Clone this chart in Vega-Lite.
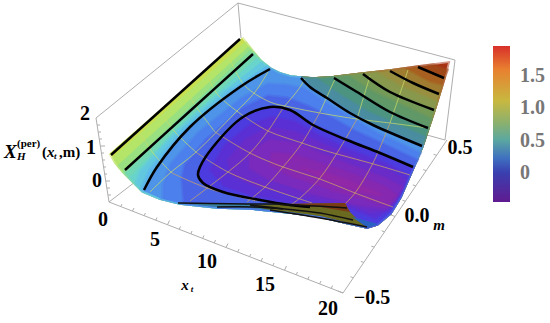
{"$schema":"https://vega.github.io/schema/vega-lite/v6.json","width":550,"height":323,"padding":0,"autosize":"none","background":"white","config":{"view":{"stroke":null}},
"encoding":{"x":{"field":"x","type":"quantitative","scale":{"domain":[0,550],"nice":false,"zero":false},"axis":null},"y":{"field":"y","type":"quantitative","scale":{"domain":[323,0],"nice":false,"zero":false},"axis":null}},
"layer":[
{"data":{"values":[
{"x":238,"y":3,"x2":96,"y2":118},{"x":238,"y":3,"x2":455,"y2":60},{"x":238,"y":3,"x2":241,"y2":38},{"x":455,"y":60,"x2":445,"y2":140},{"x":96,"y":118,"x2":109,"y2":202},{"x":109,"y":202,"x2":343,"y2":293},{"x":343,"y":293,"x2":447,"y2":140},{"x":109,"y":202,"x2":135,"y2":182},{"x":427,"y":135,"x2":445,"y2":140},{"x":343,"y":293,"x2":338,"y2":291},
{"x":120.7,"y":206.6,"x2":122,"y2":204},{"x":132.4,"y":211.1,"x2":134,"y2":208},{"x":144.1,"y":215.7,"x2":145.5,"y2":213},{"x":155.8,"y":220.2,"x2":157,"y2":217.5},{"x":167.5,"y":224.8,"x2":169.5,"y2":220.5},{"x":179.2,"y":229.3,"x2":180.5,"y2":226.5},{"x":190.9,"y":233.9,"x2":192,"y2":231},{"x":202.6,"y":238.4,"x2":204,"y2":235.5},{"x":214.3,"y":243,"x2":215.5,"y2":240},{"x":226,"y":247.5,"x2":228,"y2":243.5},{"x":237.7,"y":252.1,"x2":239,"y2":249},{"x":249.4,"y":256.6,"x2":251,"y2":254},{"x":261.1,"y":261.2,"x2":262.5,"y2":258},{"x":272.8,"y":265.7,"x2":274,"y2":263},{"x":284.5,"y":270.3,"x2":286.5,"y2":266},{"x":296.2,"y":274.8,"x2":297.5,"y2":272},{"x":307.9,"y":279.4,"x2":309,"y2":276.5},{"x":319.6,"y":283.9,"x2":321,"y2":281},{"x":331.3,"y":288.5,"x2":332.5,"y2":285.5},
{"x":97,"y":125,"x2":100,"y2":125},{"x":98.2,"y":132,"x2":101,"y2":132},{"x":99.3,"y":139,"x2":102,"y2":139},{"x":100.3,"y":146,"x2":105,"y2":146},{"x":101.4,"y":153,"x2":104,"y2":153},{"x":102.5,"y":160,"x2":105,"y2":160},{"x":103.6,"y":167,"x2":106,"y2":167},{"x":104.7,"y":174,"x2":107,"y2":174},{"x":105.8,"y":181,"x2":110,"y2":181},{"x":106.9,"y":188,"x2":110,"y2":188},{"x":108,"y":195,"x2":111,"y2":195},
{"x":353.4,"y":277.7,"x2":350.4,"y2":276.7},{"x":363.8,"y":262.4,"x2":360.8,"y2":261.4},{"x":374.2,"y":247.1,"x2":371.2,"y2":246.1},{"x":384.6,"y":231.8,"x2":381.6,"y2":230.8},{"x":395,"y":216.5,"x2":390,"y2":214.5},{"x":405.4,"y":201.2,"x2":402.4,"y2":200.2},{"x":415.8,"y":185.9,"x2":412.8,"y2":184.9},{"x":426.2,"y":170.6,"x2":423.2,"y2":169.6},{"x":436.6,"y":155.3,"x2":433.6,"y2":154.3}
]},"mark":{"type":"rule","stroke":"#aeaeae","strokeWidth":1},"encoding":{"x2":{"field":"x2"},"y2":{"field":"y2"}}},
{"data":{"values":[
{"b":"s0","x":242,"y":38},{"b":"s0","x":261,"y":62},{"b":"s0","x":270,"y":69},{"b":"s0","x":280,"y":74},{"b":"s0","x":290,"y":77},{"b":"s0","x":301,"y":78},{"b":"s0","x":290,"y":212},{"b":"s0","x":250,"y":208},{"b":"s0","x":217,"y":207},{"b":"s0","x":180,"y":203},{"b":"s0","x":160,"y":198},{"b":"s0","x":143,"y":191},{"b":"s0","x":133,"y":181},{"b":"s0","x":123,"y":171},{"b":"s0","x":116,"y":163},{"b":"s0","x":110,"y":153},
{"b":"l1","x":245,"y":42},{"b":"l1","x":253,"y":53},{"b":"l1","x":261,"y":62},{"b":"l1","x":270,"y":69},{"b":"l1","x":280,"y":74},{"b":"l1","x":290,"y":77},{"b":"l1","x":301,"y":78},{"b":"l1","x":290,"y":212},{"b":"l1","x":250,"y":208},{"b":"l1","x":217,"y":207},{"b":"l1","x":180,"y":203},{"b":"l1","x":160,"y":198},{"b":"l1","x":143,"y":191},{"b":"l1","x":133,"y":181},{"b":"l1","x":123,"y":171},{"b":"l1","x":116,"y":163},{"b":"l1","x":113,"y":157},
{"b":"l2","x":248,"y":47},{"b":"l2","x":253,"y":53},{"b":"l2","x":261,"y":62},{"b":"l2","x":270,"y":69},{"b":"l2","x":280,"y":74},{"b":"l2","x":290,"y":77},{"b":"l2","x":301,"y":78},{"b":"l2","x":290,"y":212},{"b":"l2","x":250,"y":208},{"b":"l2","x":217,"y":207},{"b":"l2","x":180,"y":203},{"b":"l2","x":160,"y":198},{"b":"l2","x":143,"y":191},{"b":"l2","x":133,"y":181},{"b":"l2","x":123,"y":171},{"b":"l2","x":118,"y":165},
{"b":"l3","x":250,"y":50},{"b":"l3","x":253,"y":53},{"b":"l3","x":261,"y":62},{"b":"l3","x":270,"y":69},{"b":"l3","x":280,"y":74},{"b":"l3","x":290,"y":77},{"b":"l3","x":301,"y":78},{"b":"l3","x":290,"y":212},{"b":"l3","x":250,"y":208},{"b":"l3","x":217,"y":207},{"b":"l3","x":180,"y":203},{"b":"l3","x":160,"y":198},{"b":"l3","x":143,"y":191},{"b":"l3","x":133,"y":181},{"b":"l3","x":123,"y":171},
{"b":"l4","x":253,"y":53},{"b":"l4","x":261,"y":62},{"b":"l4","x":270,"y":69},{"b":"l4","x":280,"y":74},{"b":"l4","x":290,"y":77},{"b":"l4","x":301,"y":78},{"b":"l4","x":290,"y":212},{"b":"l4","x":250,"y":208},{"b":"l4","x":217,"y":207},{"b":"l4","x":180,"y":203},{"b":"l4","x":160,"y":198},{"b":"l4","x":143,"y":191},{"b":"l4","x":133,"y":181},{"b":"l4","x":125,"y":173},
{"b":"l5","x":257,"y":58},{"b":"l5","x":261,"y":62},{"b":"l5","x":270,"y":69},{"b":"l5","x":280,"y":74},{"b":"l5","x":290,"y":77},{"b":"l5","x":301,"y":78},{"b":"l5","x":290,"y":212},{"b":"l5","x":250,"y":208},{"b":"l5","x":217,"y":207},{"b":"l5","x":180,"y":203},{"b":"l5","x":160,"y":198},{"b":"l5","x":143,"y":191},{"b":"l5","x":133,"y":181},{"b":"l5","x":130,"y":178},{"b":"l5","x":194,"y":113},
{"b":"l6","x":261,"y":62},{"b":"l6","x":270,"y":69},{"b":"l6","x":280,"y":74},{"b":"l6","x":290,"y":77},{"b":"l6","x":301,"y":78},{"b":"l6","x":290,"y":212},{"b":"l6","x":250,"y":208},{"b":"l6","x":217,"y":207},{"b":"l6","x":180,"y":203},{"b":"l6","x":160,"y":198},{"b":"l6","x":143,"y":191},{"b":"l6","x":136,"y":184},{"b":"l6","x":140,"y":172},{"b":"l6","x":175,"y":133},{"b":"l6","x":225,"y":90},
{"b":"l7","x":266,"y":66},{"b":"l7","x":270,"y":69},{"b":"l7","x":280,"y":74},{"b":"l7","x":290,"y":77},{"b":"l7","x":301,"y":78},{"b":"l7","x":290,"y":212},{"b":"l7","x":250,"y":208},{"b":"l7","x":217,"y":207},{"b":"l7","x":180,"y":203},{"b":"l7","x":160,"y":198},{"b":"l7","x":143,"y":191},{"b":"l7","x":141,"y":189},{"b":"l7","x":150,"y":169},{"b":"l7","x":183,"y":130},{"b":"l7","x":233,"y":88},
{"b":"r0","x":301,"y":78},{"b":"r0","x":313,"y":79},{"b":"r0","x":334,"y":77.5},{"b":"r0","x":363,"y":74},{"b":"r0","x":390,"y":71},{"b":"r0","x":418,"y":67},{"b":"r0","x":448,"y":63},{"b":"r0","x":444,"y":78},{"b":"r0","x":439,"y":94},{"b":"r0","x":434,"y":110},{"b":"r0","x":428,"y":128},{"b":"r0","x":422,"y":146},{"b":"r0","x":413,"y":167},{"b":"r0","x":400,"y":197},{"b":"r0","x":390,"y":213},{"b":"r0","x":377,"y":224},{"b":"r0","x":367,"y":227},{"b":"r0","x":345,"y":222},{"b":"r0","x":320,"y":216},{"b":"r0","x":290,"y":212},
{"b":"r1","x":301,"y":78},{"b":"r1","x":313,"y":79},{"b":"r1","x":334,"y":77.5},{"b":"r1","x":363,"y":74},{"b":"r1","x":390,"y":71},{"b":"r1","x":418,"y":67},{"b":"r1","x":433,"y":65},{"b":"r1","x":447,"y":70},{"b":"r1","x":444,"y":78},{"b":"r1","x":439,"y":94},{"b":"r1","x":434,"y":110},{"b":"r1","x":428,"y":128},{"b":"r1","x":422,"y":146},{"b":"r1","x":413,"y":167},{"b":"r1","x":400,"y":197},{"b":"r1","x":390,"y":213},{"b":"r1","x":377,"y":224},{"b":"r1","x":367,"y":227},{"b":"r1","x":345,"y":222},{"b":"r1","x":320,"y":216},{"b":"r1","x":290,"y":212},
{"b":"r2","x":301,"y":78},{"b":"r2","x":313,"y":79},{"b":"r2","x":334,"y":77.5},{"b":"r2","x":363,"y":74},{"b":"r2","x":390,"y":71},{"b":"r2","x":418,"y":67},{"b":"r2","x":444,"y":78},{"b":"r2","x":439,"y":94},{"b":"r2","x":434,"y":110},{"b":"r2","x":428,"y":128},{"b":"r2","x":422,"y":146},{"b":"r2","x":413,"y":167},{"b":"r2","x":400,"y":197},{"b":"r2","x":390,"y":213},{"b":"r2","x":377,"y":224},{"b":"r2","x":367,"y":227},{"b":"r2","x":345,"y":222},{"b":"r2","x":320,"y":216},{"b":"r2","x":290,"y":212},
{"b":"r3","x":301,"y":78},{"b":"r3","x":313,"y":79},{"b":"r3","x":334,"y":77.5},{"b":"r3","x":363,"y":74},{"b":"r3","x":390,"y":71},{"b":"r3","x":404,"y":69},{"b":"r3","x":430,"y":83},{"b":"r3","x":441.5,"y":86},{"b":"r3","x":439,"y":94},{"b":"r3","x":434,"y":110},{"b":"r3","x":428,"y":128},{"b":"r3","x":422,"y":146},{"b":"r3","x":413,"y":167},{"b":"r3","x":400,"y":197},{"b":"r3","x":390,"y":213},{"b":"r3","x":377,"y":224},{"b":"r3","x":367,"y":227},{"b":"r3","x":345,"y":222},{"b":"r3","x":320,"y":216},{"b":"r3","x":290,"y":212},
{"b":"r4","x":301,"y":78},{"b":"r4","x":313,"y":79},{"b":"r4","x":334,"y":77.5},{"b":"r4","x":363,"y":74},{"b":"r4","x":390,"y":71},{"b":"r4","x":413,"y":83},{"b":"r4","x":439,"y":94},{"b":"r4","x":434,"y":110},{"b":"r4","x":428,"y":128},{"b":"r4","x":422,"y":146},{"b":"r4","x":413,"y":167},{"b":"r4","x":400,"y":197},{"b":"r4","x":390,"y":213},{"b":"r4","x":377,"y":224},{"b":"r4","x":367,"y":227},{"b":"r4","x":345,"y":222},{"b":"r4","x":320,"y":216},{"b":"r4","x":290,"y":212},
{"b":"r5","x":301,"y":78},{"b":"r5","x":313,"y":79},{"b":"r5","x":334,"y":77.5},{"b":"r5","x":363,"y":74},{"b":"r5","x":376,"y":72.5},{"b":"r5","x":401,"y":87},{"b":"r5","x":436.5,"y":102},{"b":"r5","x":434,"y":110},{"b":"r5","x":428,"y":128},{"b":"r5","x":422,"y":146},{"b":"r5","x":413,"y":167},{"b":"r5","x":400,"y":197},{"b":"r5","x":390,"y":213},{"b":"r5","x":377,"y":224},{"b":"r5","x":367,"y":227},{"b":"r5","x":345,"y":222},{"b":"r5","x":320,"y":216},{"b":"r5","x":290,"y":212},
{"b":"r6","x":301,"y":78},{"b":"r6","x":313,"y":79},{"b":"r6","x":334,"y":77.5},{"b":"r6","x":363,"y":74},{"b":"r6","x":390,"y":92},{"b":"r6","x":434,"y":110},{"b":"r6","x":428,"y":128},{"b":"r6","x":422,"y":146},{"b":"r6","x":413,"y":167},{"b":"r6","x":400,"y":197},{"b":"r6","x":390,"y":213},{"b":"r6","x":377,"y":224},{"b":"r6","x":367,"y":227},{"b":"r6","x":345,"y":222},{"b":"r6","x":320,"y":216},{"b":"r6","x":290,"y":212},
{"b":"r7","x":301,"y":78},{"b":"r7","x":313,"y":79},{"b":"r7","x":334,"y":77.5},{"b":"r7","x":348,"y":76},{"b":"r7","x":373,"y":92},{"b":"r7","x":431,"y":119},{"b":"r7","x":428,"y":128},{"b":"r7","x":422,"y":146},{"b":"r7","x":413,"y":167},{"b":"r7","x":400,"y":197},{"b":"r7","x":390,"y":213},{"b":"r7","x":377,"y":224},{"b":"r7","x":367,"y":227},{"b":"r7","x":345,"y":222},{"b":"r7","x":320,"y":216},{"b":"r7","x":290,"y":212},
{"b":"r8","x":301,"y":78},{"b":"r8","x":313,"y":79},{"b":"r8","x":334,"y":78},{"b":"r8","x":357,"y":92},{"b":"r8","x":390,"y":112},{"b":"r8","x":428,"y":128},{"b":"r8","x":422,"y":146},{"b":"r8","x":413,"y":167},{"b":"r8","x":400,"y":197},{"b":"r8","x":390,"y":213},{"b":"r8","x":377,"y":224},{"b":"r8","x":367,"y":227},{"b":"r8","x":345,"y":222},{"b":"r8","x":320,"y":216},{"b":"r8","x":290,"y":212},
{"b":"r9","x":301,"y":78},{"b":"r9","x":317,"y":79},{"b":"r9","x":340,"y":95},{"b":"r9","x":368,"y":112},{"b":"r9","x":425,"y":137},{"b":"r9","x":422,"y":146},{"b":"r9","x":413,"y":167},{"b":"r9","x":400,"y":197},{"b":"r9","x":390,"y":213},{"b":"r9","x":377,"y":224},{"b":"r9","x":367,"y":227},{"b":"r9","x":345,"y":222},{"b":"r9","x":320,"y":216},{"b":"r9","x":290,"y":212},
{"b":"c1","x":144,"y":191},{"b":"c1","x":157,"y":167},{"b":"c1","x":190,"y":127},{"b":"c1","x":240,"y":87},{"b":"c1","x":270,"y":69},{"b":"c1","x":280,"y":74},{"b":"c1","x":290,"y":77},{"b":"c1","x":301,"y":78},{"b":"c1","x":310,"y":87},{"b":"c1","x":327,"y":98},{"b":"c1","x":350,"y":113},{"b":"c1","x":373,"y":125},{"b":"c1","x":422,"y":146},{"b":"c1","x":413,"y":167},{"b":"c1","x":400,"y":197},{"b":"c1","x":390,"y":213},{"b":"c1","x":377,"y":224},{"b":"c1","x":367,"y":227},{"b":"c1","x":345,"y":222},{"b":"c1","x":320,"y":216},{"b":"c1","x":290,"y":212},{"b":"c1","x":250,"y":208},{"b":"c1","x":217,"y":207},{"b":"c1","x":180,"y":203},{"b":"c1","x":160,"y":198},
{"b":"c2","x":163,"y":199},{"b":"c2","x":163,"y":185},{"b":"c2","x":170,"y":165},{"b":"c2","x":198,"y":133},{"b":"c2","x":242,"y":98},{"b":"c2","x":268,"y":84},{"b":"c2","x":285,"y":85},{"b":"c2","x":303,"y":88},{"b":"c2","x":330,"y":105},{"b":"c2","x":355,"y":120},{"b":"c2","x":377,"y":133},{"b":"c2","x":420,"y":153},{"b":"c2","x":413,"y":167},{"b":"c2","x":400,"y":197},{"b":"c2","x":390,"y":213},{"b":"c2","x":377,"y":224},{"b":"c2","x":367,"y":227},{"b":"c2","x":345,"y":222},{"b":"c2","x":320,"y":216},{"b":"c2","x":290,"y":212},{"b":"c2","x":250,"y":208},{"b":"c2","x":217,"y":207},{"b":"c2","x":180,"y":203},
{"b":"c3","x":184,"y":204},{"b":"c3","x":182,"y":178},{"b":"c3","x":185,"y":165},{"b":"c3","x":206,"y":140},{"b":"c3","x":243,"y":108},{"b":"c3","x":268,"y":96},{"b":"c3","x":287,"y":98},{"b":"c3","x":308,"y":106},{"b":"c3","x":332,"y":118},{"b":"c3","x":355,"y":131},{"b":"c3","x":379,"y":142},{"b":"c3","x":417,"y":160},{"b":"c3","x":413,"y":167},{"b":"c3","x":400,"y":197},{"b":"c3","x":390,"y":213},{"b":"c3","x":377,"y":224},{"b":"c3","x":367,"y":227},{"b":"c3","x":345,"y":222},{"b":"c3","x":320,"y":216},{"b":"c3","x":290,"y":212},{"b":"c3","x":250,"y":208},{"b":"c3","x":217,"y":207},
{"b":"c4","x":223,"y":192},{"b":"c4","x":203,"y":183},{"b":"c4","x":198,"y":172},{"b":"c4","x":205,"y":157},{"b":"c4","x":213,"y":147},{"b":"c4","x":243,"y":117},{"b":"c4","x":270,"y":107},{"b":"c4","x":290,"y":110},{"b":"c4","x":313,"y":125},{"b":"c4","x":347,"y":140},{"b":"c4","x":380,"y":153},{"b":"c4","x":413,"y":167},{"b":"c4","x":400,"y":197},{"b":"c4","x":390,"y":213},{"b":"c4","x":377,"y":224},{"b":"c4","x":367,"y":227},{"b":"c4","x":345,"y":215},{"b":"c4","x":290,"y":205},{"b":"c4","x":260,"y":200},
{"b":"c5","x":225,"y":187},{"b":"c5","x":210,"y":170},{"b":"c5","x":225,"y":145},{"b":"c5","x":250,"y":125},{"b":"c5","x":272,"y":117},{"b":"c5","x":295,"y":122},{"b":"c5","x":320,"y":136},{"b":"c5","x":350,"y":150},{"b":"c5","x":385,"y":163},{"b":"c5","x":408,"y":175},{"b":"c5","x":402,"y":190},{"b":"c5","x":391,"y":208},{"b":"c5","x":375,"y":218},{"b":"c5","x":350,"y":208},{"b":"c5","x":300,"y":203},{"b":"c5","x":250,"y":195},
{"b":"c6","x":260,"y":188},{"b":"c6","x":232,"y":175},{"b":"c6","x":228,"y":160},{"b":"c6","x":245,"y":140},{"b":"c6","x":268,"y":128},{"b":"c6","x":295,"y":132},{"b":"c6","x":325,"y":145},{"b":"c6","x":355,"y":158},{"b":"c6","x":388,"y":170},{"b":"c6","x":405,"y":180},{"b":"c6","x":398,"y":196},{"b":"c6","x":387,"y":210},{"b":"c6","x":370,"y":212},{"b":"c6","x":345,"y":203},{"b":"c6","x":300,"y":197},
{"b":"c7","x":270,"y":180},{"b":"c7","x":250,"y":168},{"b":"c7","x":250,"y":152},{"b":"c7","x":270,"y":140},{"b":"c7","x":295,"y":143},{"b":"c7","x":325,"y":155},{"b":"c7","x":355,"y":167},{"b":"c7","x":385,"y":178},{"b":"c7","x":402,"y":187},{"b":"c7","x":395,"y":200},{"b":"c7","x":385,"y":208},{"b":"c7","x":360,"y":205},{"b":"c7","x":340,"y":200},{"b":"c7","x":300,"y":190},
{"b":"c8","x":295,"y":178},{"b":"c8","x":270,"y":165},{"b":"c8","x":272,"y":153},{"b":"c8","x":295,"y":155},{"b":"c8","x":325,"y":165},{"b":"c8","x":355,"y":175},{"b":"c8","x":385,"y":187},{"b":"c8","x":396,"y":195},{"b":"c8","x":388,"y":205},{"b":"c8","x":362,"y":198},{"b":"c8","x":330,"y":190},
{"b":"c9","x":300,"y":168},{"b":"c9","x":325,"y":173},{"b":"c9","x":355,"y":183},{"b":"c9","x":382,"y":195},{"b":"c9","x":358,"y":191},{"b":"c9","x":325,"y":180}
]},"mark":{"type":"line","filled":true,"strokeWidth":3.5,"strokeOpacity":0.5},"encoding":{"order":{"value":null},"fill":{"field":"b","type":"nominal","legend":null,"scale":{"domain":["s0","l1","l2","l3","l4","l5","l6","l7","r0","r1","r2","r3","r4","r5","r6","r7","r8","r9","c1","c2","c3","c4","c5","c6","c7","c8","c9","f1","f2","f3","f4"],"range":["#c8e050","#b4e468","#98e080","#84dc98","#72d8b4","#68d4cc","#62c8e0","#5cb8ec","#a83214","#a04818","#a86020","#a07c30","#989040","#88984c","#749a58","#609868","#4c9480","#4a8ca0","#4e94e8","#4c80ec","#4a64e6","#4c3ce0","#5a30d4","#6a2cc8","#7a2abc","#8628b0","#9028a8","#3a80a0","#6a6a20","#7a3c14","#2a60c0"]}},"stroke":{"field":"b","type":"nominal","legend":null,"scale":{"domain":["s0","l1","l2","l3","l4","l5","l6","l7","r0","r1","r2","r3","r4","r5","r6","r7","r8","r9","c1","c2","c3","c4","c5","c6","c7","c8","c9"],"range":["#c8e050","#b4e468","#98e080","#84dc98","#72d8b4","#68d4cc","#62c8e0","#5cb8ec","#a83214","#a04818","#a86020","#a07c30","#989040","#88984c","#749a58","#609868","#4c9480","#4a8ca0","#4e94e8","#4c80ec","#4a64e6","#4c3ce0","#5a30d4","#6a2cc8","#7a2abc","#8628b0","#9028a8"]}}}},
{"data":{"values":[
{"id":"m0a","p":"hi","x":228,"y":55},{"id":"m0a","p":"hi","x":235,"y":70},{"id":"m0a","p":"hi","x":245,"y":86},{"id":"m0a","p":"hi","x":270,"y":102},{"id":"m0a","p":"hi","x":290,"y":107},{"id":"m0a","p":"hi","x":320,"y":113},{"id":"m0a","p":"hi","x":357,"y":119},{"id":"m0a","p":"hi","x":390,"y":123},{"id":"m0a","p":"hi","x":428,"y":128},
{"id":"m1a","p":"hi","x":207,"y":75},{"id":"m1a","p":"hi","x":218,"y":95},{"id":"m1a","p":"hi","x":245,"y":117},{"id":"m1b","p":"lo","x":245,"y":117},{"id":"m1b","p":"lo","x":268,"y":131},{"id":"m1b","p":"lo","x":302,"y":143},{"id":"m1b","p":"lo","x":323,"y":150},{"id":"m1b","p":"lo","x":377,"y":165},{"id":"m1b","p":"lo","x":410,"y":175},
{"id":"m2a","p":"hi","x":187,"y":93},{"id":"m2a","p":"hi","x":197,"y":108},{"id":"m2a","p":"hi","x":215,"y":132},{"id":"m2b","p":"lo","x":215,"y":132},{"id":"m2b","p":"lo","x":250,"y":153},{"id":"m2b","p":"lo","x":283,"y":167},{"id":"m2b","p":"lo","x":320,"y":179},{"id":"m2b","p":"lo","x":355,"y":193},{"id":"m2b","p":"lo","x":393,"y":207},
{"id":"m3a","p":"hi","x":163,"y":115},{"id":"m3a","p":"hi","x":175,"y":132},{"id":"m3a","p":"hi","x":197,"y":153},{"id":"m3b","p":"lo","x":197,"y":153},{"id":"m3b","p":"lo","x":228,"y":172},{"id":"m3b","p":"lo","x":265,"y":187},{"id":"m3b","p":"lo","x":303,"y":200},{"id":"m3b","p":"lo","x":312,"y":203},
{"id":"m4a","p":"hi","x":140,"y":133},{"id":"m4a","p":"hi","x":153,"y":153},{"id":"m4a","p":"hi","x":172,"y":173},{"id":"m4b","p":"lo","x":172,"y":173},{"id":"m4b","p":"lo","x":207,"y":188},{"id":"m4b","p":"lo","x":257,"y":201},
{"id":"t1a","p":"hi","x":268,"y":72},{"id":"t1a","p":"hi","x":255,"y":92},{"id":"t1a","p":"hi","x":235,"y":113},{"id":"t1a","p":"hi","x":195,"y":153},{"id":"t1a","p":"hi","x":170,"y":173},{"id":"t1a","p":"hi","x":150,"y":192},
{"id":"t2a","p":"hi","x":305,"y":79},{"id":"t2a","p":"hi","x":298,"y":90},{"id":"t2a","p":"hi","x":283,"y":108},{"id":"t2b","p":"lo","x":283,"y":108},{"id":"t2b","p":"lo","x":268,"y":131},{"id":"t2b","p":"lo","x":250,"y":153},{"id":"t2b","p":"lo","x":228,"y":172},{"id":"t2b","p":"lo","x":190,"y":201},
{"id":"t3a","p":"hi","x":335,"y":79},{"id":"t3a","p":"hi","x":320,"y":112},{"id":"t3b","p":"lo","x":320,"y":112},{"id":"t3b","p":"lo","x":302,"y":143},{"id":"t3b","p":"lo","x":283,"y":167},{"id":"t3b","p":"lo","x":265,"y":187},{"id":"t3b","p":"lo","x":247,"y":202},
{"id":"t4a","p":"hi","x":370,"y":76},{"id":"t4a","p":"hi","x":357,"y":119},{"id":"t4b","p":"lo","x":357,"y":119},{"id":"t4b","p":"lo","x":337,"y":153},{"id":"t4b","p":"lo","x":320,"y":178},{"id":"t4b","p":"lo","x":300,"y":198},{"id":"t4b","p":"lo","x":292,"y":204},
{"id":"t5a","p":"hi","x":408,"y":70},{"id":"t5a","p":"hi","x":390,"y":123},{"id":"t5b","p":"lo","x":390,"y":123},{"id":"t5b","p":"lo","x":373,"y":163},{"id":"t5b","p":"lo","x":355,"y":193},{"id":"t5b","p":"lo","x":345,"y":204}
]},"mark":{"type":"line","strokeWidth":0.9,"strokeOpacity":0.8,"interpolate":"catmull-rom"},"encoding":{"order":{"value":null},"detail":{"field":"id"},"color":{"field":"p","type":"nominal","legend":null,"scale":{"domain":["hi","lo"],"range":["#c8dc68","#d0a860"]}}}},
{"data":{"values":[
{"b":"f1","x":178,"y":203},{"b":"f1","x":217,"y":204},{"b":"f1","x":250,"y":204},{"b":"f1","x":285,"y":205},{"b":"f1","x":320,"y":216},{"b":"f1","x":290,"y":212},{"b":"f1","x":250,"y":208},{"b":"f1","x":217,"y":207},
{"b":"f2","x":250,"y":205},{"b":"f2","x":285,"y":204},{"b":"f2","x":345,"y":203},{"b":"f2","x":349,"y":211},{"b":"f2","x":355,"y":217},{"b":"f2","x":368,"y":227},{"b":"f2","x":345,"y":222},{"b":"f2","x":320,"y":216},{"b":"f2","x":290,"y":212},{"b":"f2","x":265,"y":209},
{"b":"f3","x":280,"y":204},{"b":"f3","x":345,"y":203},{"b":"f3","x":350,"y":212},{"b":"f3","x":320,"y":207},{"b":"f3","x":300,"y":206},
{"b":"f4","x":352,"y":217},{"b":"f4","x":378,"y":224},{"b":"f4","x":368,"y":228}
]},"mark":{"type":"line","filled":true,"strokeWidth":0},"encoding":{"order":{"value":null},"fill":{"field":"b","type":"nominal","legend":null}}},
{"data":{"values":[
{"id":"L1","x":240,"y":39},{"id":"L1","x":111,"y":155},
{"id":"L2","x":253,"y":54},{"id":"L2","x":190,"y":111},{"id":"L2","x":125,"y":170},
{"id":"L3","x":270,"y":69},{"id":"L3","x":240,"y":87},{"id":"L3","x":190,"y":127},{"id":"L3","x":157,"y":167},{"id":"L3","x":144,"y":190},
{"id":"C","x":413,"y":167},{"id":"C","x":380,"y":153},{"id":"C","x":347,"y":140},{"id":"C","x":313,"y":125},{"id":"C","x":290,"y":110},{"id":"C","x":270,"y":107},{"id":"C","x":243,"y":117},{"id":"C","x":213,"y":147},{"id":"C","x":200,"y":167},{"id":"C","x":198,"y":175},{"id":"C","x":203,"y":183},{"id":"C","x":223,"y":192},{"id":"C","x":260,"y":200},{"id":"C","x":290,"y":205},{"id":"C","x":310,"y":207},
{"id":"A","x":301,"y":78},{"id":"A","x":310,"y":87},{"id":"A","x":327,"y":98},{"id":"A","x":350,"y":113},{"id":"A","x":373,"y":125},{"id":"A","x":422,"y":146},
{"id":"B","x":334,"y":78},{"id":"B","x":357,"y":92},{"id":"B","x":390,"y":112},{"id":"B","x":428,"y":128},
{"id":"Cc","x":363,"y":74},{"id":"Cc","x":390,"y":92},{"id":"Cc","x":434,"y":110},
{"id":"D","x":390,"y":71},{"id":"D","x":413,"y":83},{"id":"D","x":439,"y":94},
{"id":"E","x":418,"y":67},{"id":"E","x":444,"y":78}
]},"mark":{"type":"line","stroke":"#000","strokeWidth":2.5,"interpolate":"catmull-rom"},"encoding":{"order":{"value":null},"detail":{"field":"id"}}},
{"data":{"values":[
{"id":"F1","x":178,"y":203},{"id":"F1","x":210,"y":203.5},{"id":"F1","x":247,"y":204},{"id":"F1","x":280,"y":204},
{"id":"F2","x":217,"y":207},{"id":"F2","x":253,"y":207},{"id":"F2","x":283,"y":209},
{"id":"F3","x":280,"y":204.5},{"id":"F3","x":315,"y":206},{"id":"F3","x":347,"y":208},
{"id":"F4","x":250,"y":205},{"id":"F4","x":285,"y":209},{"id":"F4","x":320,"y":213},{"id":"F4","x":353,"y":220},
{"id":"F5","x":270,"y":210},{"id":"F5","x":320,"y":218},{"id":"F5","x":367,"y":227}
]},"mark":{"type":"line","stroke":"#111","strokeWidth":1.6,"interpolate":"catmull-rom"},"encoding":{"order":{"value":null},"detail":{"field":"id"}}},
{"data":{"values":[{"x":493,"y":46,"x2":510,"y2":202}]},"mark":{"type":"rect","fill":{"gradient":"linear","x1":0,"y1":1,"x2":0,"y2":0,"stops":[{"offset":0,"color":"#601a90"},{"offset":0.19,"color":"#3a40b0"},{"offset":0.28,"color":"#3f70c0"},{"offset":0.4,"color":"#5ca8a0"},{"offset":0.5,"color":"#88b070"},{"offset":0.65,"color":"#c8b840"},{"offset":0.85,"color":"#e88030"},{"offset":1,"color":"#d8302a"}]}},"encoding":{"x2":{"field":"x2"},"y2":{"field":"y2"}}},
{"data":{"values":[{"t":"0","x":103,"y":220},{"t":"5","x":155,"y":240},{"t":"10","x":207,"y":262},{"t":"15","x":265,"y":285},{"t":"20","x":328,"y":309},{"t":"−0.5","x":372,"y":298},{"t":"0.0","x":417,"y":216},{"t":"0.5","x":460,"y":148},{"t":"2","x":85,"y":114},{"t":"1","x":91,"y":148},{"t":"0","x":97,"y":181}]},"mark":{"type":"text","font":"Liberation Serif","fontWeight":"bold","fontSize":20,"fill":"#000"},"encoding":{"text":{"field":"t"}}},
{"data":{"values":[{"t":"1.5","x":520,"y":76},{"t":"1.0","x":520,"y":108},{"t":"0.5","x":520,"y":141},{"t":"0","x":520,"y":173}]},"mark":{"type":"text","font":"Liberation Serif","fontWeight":"bold","fontSize":20,"align":"left","fill":"#777"},"encoding":{"text":{"field":"t"}}},
{"data":{"values":[{"t":"x","x":185,"y":285},{"t":"m","x":439,"y":225}]},"mark":{"type":"text","font":"Liberation Serif","fontWeight":"bold","fontStyle":"italic","fontSize":15,"fill":"#000"},"encoding":{"text":{"field":"t"}}},
{"data":{"values":[{"t":"t","x":192,"y":289}]},"mark":{"type":"text","font":"Liberation Serif","fontWeight":"bold","fontStyle":"italic","fontSize":9,"fill":"#000"},"encoding":{"text":{"field":"t"}}},
{"data":{"values":[{"t":"X","x":4,"y":152}]},"mark":{"type":"text","font":"Liberation Serif","fontWeight":"bold","fontStyle":"italic","fontSize":19,"align":"left","fill":"#000"},"encoding":{"text":{"field":"t"}}},
{"data":{"values":[{"t":"H","x":17,"y":157}]},"mark":{"type":"text","font":"Liberation Serif","fontWeight":"bold","fontStyle":"italic","fontSize":11,"align":"left","fill":"#000"},"encoding":{"text":{"field":"t"}}},
{"data":{"values":[{"t":"(per)","x":17,"y":144}]},"mark":{"type":"text","font":"Liberation Serif","fontWeight":"bold","fontSize":11,"align":"left","fill":"#000"},"encoding":{"text":{"field":"t"}}},
{"data":{"values":[{"t":"(","x":42,"y":152},{"t":",m)","x":59,"y":152}]},"mark":{"type":"text","font":"Liberation Serif","fontWeight":"bold","fontSize":15,"align":"left","fill":"#000"},"encoding":{"text":{"field":"t"}}},
{"data":{"values":[{"t":"x","x":47,"y":152}]},"mark":{"type":"text","font":"Liberation Serif","fontWeight":"bold","fontStyle":"italic","fontSize":15,"align":"left","fill":"#000"},"encoding":{"text":{"field":"t"}}},
{"data":{"values":[{"t":"t","x":54,"y":156}]},"mark":{"type":"text","font":"Liberation Serif","fontWeight":"bold","fontStyle":"italic","fontSize":9,"align":"left","fill":"#000"},"encoding":{"text":{"field":"t"}}}
]}
